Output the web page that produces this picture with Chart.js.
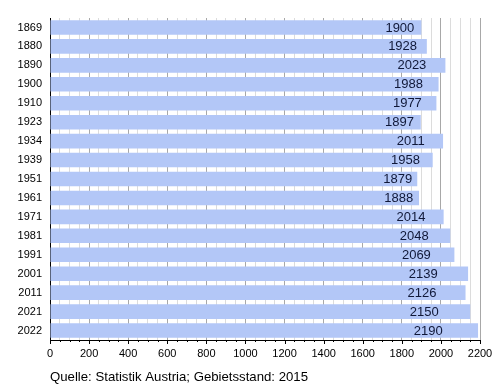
<!DOCTYPE html>
<html><head><meta charset="utf-8">
<script src="https://cdn.jsdelivr.net/npm/chart.js@4/dist/chart.umd.min.js"></script>
<style>html,body{margin:0;padding:0;background:#fff;}#wrap{width:500px;height:390px;position:relative;}</style>
</head><body><div id="wrap"><canvas id="c" width="500" height="390"></canvas></div>
<script>
const years = ['1869','1880','1890','1900','1910','1923','1934','1939','1951','1961','1971','1981','1991','2001','2011','2021','2022'];
const population = [1900,1928,2023,1988,1977,1897,2011,1958,1879,1888,2014,2048,2069,2139,2126,2150,2190];
const xTicks = [0,200,400,600,800,1000,1200,1400,1600,1800,2000,2200];
const caption = 'Quelle: Statistik Austria; Gebietsstand: 2015';

const FONT = '"Liberation Sans", Arial, sans-serif';

const overlay = {
  id: 'overlay',
  afterDatasetsDraw(chart) {
    const ctx = chart.ctx;
    const meta = chart.getDatasetMeta(0);
    const xs = chart.scales.x;
    const anchor = xs.getPixelForValue(1680);
    ctx.save();
    ctx.font = '13px ' + FONT;
    ctx.fillStyle = '#101838';
    ctx.textAlign = 'center';
    ctx.textBaseline = 'middle';
    meta.data.forEach((bar, i) => {
      ctx.fillText(String(population[i]), (bar.x + anchor) / 2, bar.y + 0.5);
    });
    ctx.restore();
  },
  afterDraw(chart) {
    const ctx = chart.ctx;
    const xs = chart.scales.x;
    const area = chart.chartArea;
    ctx.save();
    ctx.strokeStyle = '#000';
    ctx.lineWidth = 1;
    for (let v = 0; v <= 2200; v += 50) {
      const px = Math.round(xs.getPixelForValue(v)) + 0.5;
      const len = (v % 200 === 0) ? 4 : 2;
      ctx.beginPath();
      ctx.moveTo(px, area.bottom);
      ctx.lineTo(px, area.bottom + len);
      ctx.stroke();
    }
    ctx.font = '13.2px ' + FONT;
    ctx.fillStyle = '#000';
    ctx.textAlign = 'left';
    ctx.textBaseline = 'middle';
    ctx.fillText(caption, area.left, 377);
    ctx.restore();
  }
};

new Chart(document.getElementById('c'), {
  type: 'bar',
  data: {
    labels: years,
    datasets: [{
      data: population,
      backgroundColor: '#b3c7f7',
      borderWidth: 0,
      barPercentage: 0.77,
      categoryPercentage: 1.0
    }]
  },
  options: {
    indexAxis: 'y',
    responsive: false,
    animation: false,
    events: [],
    layout: { padding: { left: 0, right: 20, top: 18, bottom: 0 } },
    plugins: { legend: { display: false }, tooltip: { enabled: false }, title: { display: false } },
    scales: {
      x: {
        min: 0, max: 2200,
        afterFit(s) { s.height = 50; },
        ticks: {
          stepSize: 50,
          autoSkip: false,
          maxRotation: 0,
          padding: 3,
          color: '#000',
          font: { family: FONT, size: 11 },
          callback(v) { return (v % 200 === 0 && xTicks.includes(v)) ? String(v) : ''; }
        },
        grid: {
          drawTicks: true,
          tickLength: 4,
          tickColor: 'rgba(0,0,0,0)',
          color(c) {
            const v = c.tick ? c.tick.value : 0;
            if (v % 200 === 0) return '#a8a8a8';
            return '#dcdcdc';
          },
          lineWidth: 1
        },
        border: { display: true, color: '#000', width: 1 }
      },
      y: {
        afterFit(s) { s.width = 50; },
        ticks: {
          color: '#000',
          padding: 8,
          font: { family: FONT, size: 11 }
        },
        grid: { display: false, drawTicks: false },
        border: { display: true, color: '#000', width: 1 }
      }
    }
  },
  plugins: [overlay]
});
</script>
</body></html>
